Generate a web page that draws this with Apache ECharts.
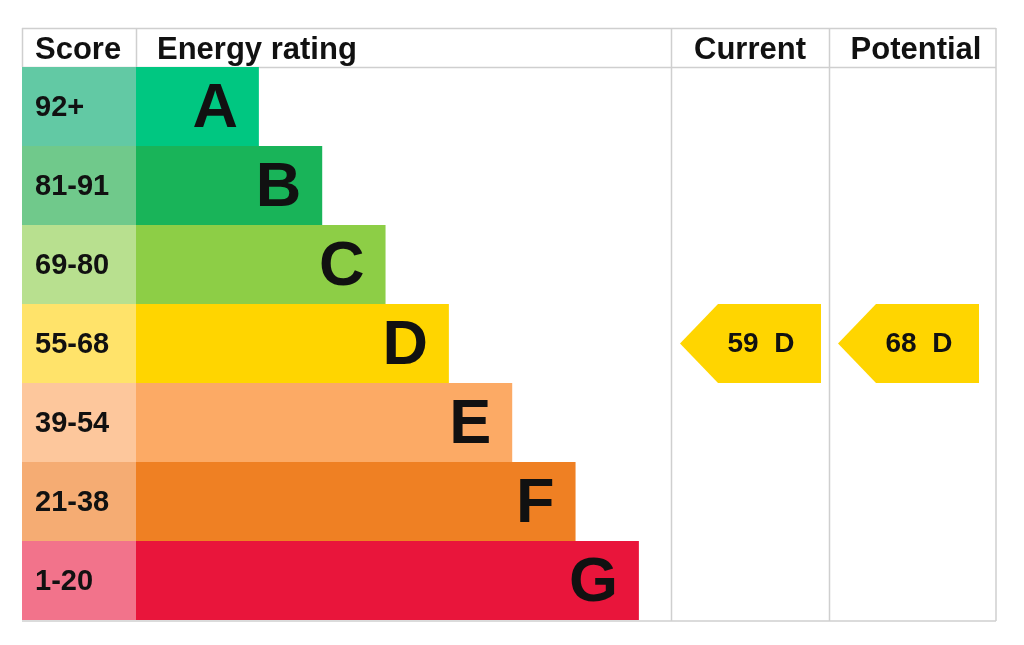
<!DOCTYPE html>
<html>
<head>
<meta charset="utf-8">
<script src="https://cdn.jsdelivr.net/npm/echarts@6/dist/echarts.min.js"></script>
<style>html,body{margin:0;padding:0;background:#fff;}#c{width:1024px;height:645px;}</style>
</head>
<body>
<div id="c"></div>
<script>
const bands = ['A','B','C','D','E','F','G'];
const scoreRanges = ['92+','81-91','69-80','55-68','39-54','21-38','1-20'];
const barLengths = [2,3,4,5,6,7,8];
const barColors = ['#00C781','#19B459','#8DCE46','#FFD500','#FCAA65','#EF8023','#E9153B'];
const scoreColors = ['#62C9A4','#70C98B','#B8E08F','#FFE36A','#FDC79C','#F5AC73','#F2738B'];
const headers = ['Score','Energy rating','Current','Potential'];
const currentScore = 59, currentBand = 'D';
const potentialScore = 68, potentialBand = 'D';
const arrowColor = '#FFD500';

const FONT = '"Liberation Sans", Arial, sans-serif';
const lineColor = '#cfcfcf';

const chart = echarts.init(document.getElementById('c'));

function line(x1,y1,x2,y2){
  return {type:'line', shape:{x1,y1,x2,y2}, style:{stroke:lineColor, lineWidth:1.5}, silent:true};
}
function header(text, x, align){
  return {type:'text', x:x, y:50, style:{text:text, align:align, verticalAlign:'middle', font:'bold 31px '+FONT, fill:'#111'}};
}

chart.setOption({
  animation:false,
  grid:{left:136, right:353, top:67, bottom:25},
  xAxis:{type:'value', min:0.06, max:8.507, show:false},
  yAxis:{type:'category', data:bands, inverse:true, show:false},
  graphic:[
    line(22,28.5,996,28.5),
    line(22,67.5,996,67.5),
    line(22,621,996,621),
    line(22.5,28,22.5,67),
    line(136.5,28,136.5,67),
    line(671.5,28,671.5,621),
    line(829.5,28,829.5,621),
    line(996,28,996,621),
    header(headers[0], 35, 'left'),
    header(headers[1], 157, 'left'),
    header(headers[2], 750, 'center'),
    header(headers[3], 916, 'center')
  ],
  series:[
    {
      type:'custom',
      clip:false,
      encode:{x:1, y:0},
      data: barLengths.map((v,i)=>[i,v]),
      renderItem(params, api){
        const i = api.value(0);
        const end = api.coord([api.value(1), i]);
        const h = api.size([0,1])[1];
        const cs = params.coordSys;
        const top = end[1]-h/2;
        return {type:'group', children:[
          {type:'rect', shape:{x:22, y:top, width:cs.x-22, height:h}, style:{fill:scoreColors[i]}},
          {type:'text', style:{text:scoreRanges[i], x:35, y:end[1]+1, verticalAlign:'middle', font:'bold 29px '+FONT, fill:'#111'}},
          {type:'rect', shape:{x:cs.x, y:top, width:end[0]-cs.x, height:h}, style:{fill:barColors[i]}},
          {type:'text', style:{text:bands[i], x:end[0]-21, y:end[1]+3, align:'right', verticalAlign:'middle', font:'bold 63px '+FONT, fill:'#111'}}
        ]};
      }
    },
    {
      type:'custom',
      clip:false,
      encode:{x:0, y:1},
      data:[[currentScore, bands.indexOf(currentBand), 0],[potentialScore, bands.indexOf(potentialBand), 1]],
      renderItem(params, api){
        const score = api.value(0), bi = api.value(1), col = api.value(2);
        const bandName = bands[bi];
        const cs = params.coordSys;
        const c = api.coord([0, bi]);
        const h = api.size([0,1])[1];
        const colLeft = cs.x + cs.width + (col===0 ? 0 : 158);
        const x0 = colLeft + 9, x1 = x0 + 141, xn = x0 + 38;
        const y0 = c[1]-h/2, y1 = c[1]+h/2;
        return {type:'group', children:[
          {type:'polygon', shape:{points:[[x0,c[1]],[xn,y0],[x1,y0],[x1,y1],[xn,y1]]}, style:{fill:arrowColor}},
          {type:'text', style:{text:score+'  '+bandName, x:x0+81, y:c[1]+1, align:'center', verticalAlign:'middle', font:'bold 28px '+FONT, fill:'#111'}}
        ]};
      }
    }
  ]
});
</script>
</body>
</html>
